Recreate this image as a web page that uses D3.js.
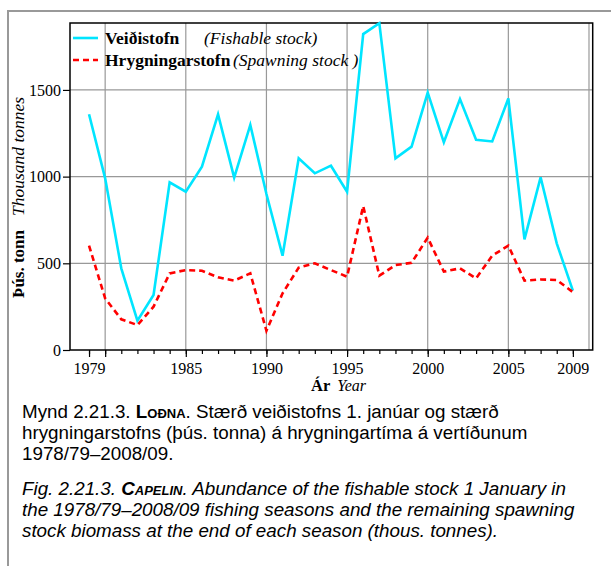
<!DOCTYPE html>
<html><head><meta charset="utf-8">
<script src="https://cdn.jsdelivr.net/npm/d3@7"></script>
<style>body{margin:0;background:#fff}svg{display:block}</style>
</head><body>
<svg id="c" width="611" height="566"></svg>
<script>
const years = d3.range(1979, 2010);
const fishable = [1360,990,471,169,317,967,913,1057,1359,994,1298,900,544,1105,1019,1063,913,1822,1885,1105,1173,1484,1198,1447,1213,1203,1451,638,996,615,342];
const spawning = [602,298,177,144,250,442,461,457,419,400,442,111,327,475,500,461,423,830,429,490,503,648,452,471,413,544,602,400,407,404,334];
const yTicks = [0,500,1000,1500];
const xLabelYears = [1979,1985,1990,1995,2000,2005,2009];
const xGridYears = [1980,1985,1990,1995,2000,2005,2010];
const legendItems = [
  {bold:"Veiðistofn", ital:"(Fishable stock)", color:"#00e5ff", dash:null},
  {bold:"Hrygningarstofn", ital:"(Spawning stock )", color:"#ff0000", dash:"6,4"}
];

const svg = d3.select("#c");
const L=70, R=592.7, T=23, B=350;
const x = d3.scaleLinear().domain([1977.82, 2010.23]).range([L, R]);
const y = d3.scaleLinear().domain([0, 1886]).range([B, T]);
const serif = "'Liberation Serif', 'Times New Roman', serif";
const sans = "'Liberation Sans', Arial, sans-serif";

// outer frame
svg.append("path").attr("d","M8,566 V11 H611").attr("fill","none").attr("stroke","#999").attr("stroke-width",2);

// grid
const g = svg.append("g");
g.selectAll(".hg").data(yTicks.filter(d=>d>0)).join("line")
  .attr("x1",L).attr("x2",R).attr("y1",d=>y(d)).attr("y2",d=>y(d))
  .attr("stroke","#999").attr("stroke-width",1.2);
g.selectAll(".vg").data(xGridYears).join("line")
  .attr("x1",d=>x(d)).attr("x2",d=>x(d)).attr("y1",T).attr("y2",B)
  .attr("stroke","#999").attr("stroke-width",1.2);

// axes
const yAxis = svg.append("g").attr("transform",`translate(${L},0)`)
  .call(d3.axisLeft(y).tickValues(yTicks).tickSize(7).tickPadding(2).tickFormat(d3.format("d")));
yAxis.select(".domain").remove();
yAxis.selectAll("text").attr("font-family",serif).attr("font-size",16).attr("fill","#000");

const xAxisMinor = svg.append("g").attr("transform",`translate(0,${B})`)
  .call(d3.axisBottom(x).tickValues(years).tickSize(4).tickFormat(""));
xAxisMinor.select(".domain").remove();
const xAxis = svg.append("g").attr("transform",`translate(0,${B})`)
  .call(d3.axisBottom(x).tickValues(xLabelYears.concat([1980])).tickSize(7).tickPadding(6)
    .tickFormat(d=> xLabelYears.includes(d) ? d : ""));
xAxis.select(".domain").remove();
xAxis.selectAll("text").attr("font-family",serif).attr("font-size",16).attr("fill","#000");
svg.selectAll(".tick line").attr("stroke","#000").attr("stroke-width",1.2);

// plot frame
svg.append("rect").attr("x",L).attr("y",T).attr("width",R-L).attr("height",B-T)
  .attr("fill","none").attr("stroke","#000").attr("stroke-width",1.5);

// lines
const line = d3.line().x((d,i)=>x(years[i])).y(d=>y(d));
svg.append("path").datum(fishable).attr("d",line).attr("fill","none")
  .attr("stroke","#00e5ff").attr("stroke-width",2.6).attr("stroke-linejoin","miter");
svg.append("path").datum(spawning).attr("d",line).attr("fill","none")
  .attr("stroke","#ff0000").attr("stroke-width",2.6).attr("stroke-dasharray","6,4");

// legend
const lg = svg.append("g");
const lItalX = [204, 233];
legendItems.forEach((it,i)=>{
  const ly = 38 + i*22;
  lg.append("line").attr("x1",73).attr("x2",98).attr("y1",ly).attr("y2",ly)
    .attr("stroke",it.color).attr("stroke-width",2.6).attr("stroke-dasharray",it.dash);
  lg.append("text").attr("x",105).attr("y",ly+6).attr("font-family",serif).attr("font-size",17.5)
    .attr("font-weight","bold").text(it.bold);
  lg.append("text").attr("x",lItalX[i]).attr("y",ly+6).attr("font-family",serif).attr("font-size",17.5)
    .attr("font-style","italic").text(it.ital);
});

// axis titles
const xt = svg.append("text").attr("x",311).attr("y",391).attr("font-family",serif).attr("font-size",16.5);
xt.append("tspan").attr("font-weight","bold").text("Ár");
xt.append("tspan").attr("dx",7).attr("font-style","italic").attr("font-size",16).text("Year");

const yt = svg.append("text").attr("transform","translate(24,298) rotate(-90)")
  .attr("font-family",serif).attr("font-size",17);
yt.append("tspan").attr("font-weight","bold").text("Þús. tonn");
yt.append("tspan").attr("dx",14).attr("font-style","italic").attr("font-size",17.5).text("Thousand tonnes");

// caption
const cap = svg.append("g").attr("font-family",sans).attr("font-size",18.8).attr("fill","#000");
const c1 = cap.append("text").attr("x",22).attr("y",418);
c1.append("tspan").text("Mynd 2.21.3. ");
c1.append("tspan").attr("font-weight","bold").attr("font-variant","small-caps").text("Loðna");
c1.append("tspan").text(". Stærð veiðistofns 1. janúar og stærð");
cap.append("text").attr("x",22).attr("y",439).text("hrygningarstofns (þús. tonna) á hrygningartíma á vertíðunum");
cap.append("text").attr("x",22).attr("y",460).text("1978/79–2008/09.");
const c4 = cap.append("text").attr("x",22).attr("y",495).attr("font-style","italic");
c4.append("tspan").text("Fig. 2.21.3. ");
c4.append("tspan").attr("font-weight","bold").attr("font-variant","small-caps").text("Capelin");
c4.append("tspan").text(". Abundance of the fishable stock 1 January in");
cap.append("text").attr("x",22).attr("y",516).attr("font-style","italic").text("the 1978/79–2008/09 fishing seasons and the remaining spawning");
cap.append("text").attr("x",22).attr("y",537).attr("font-style","italic").text("stock biomass at the end of each season (thous. tonnes).");
</script>
</body></html>
